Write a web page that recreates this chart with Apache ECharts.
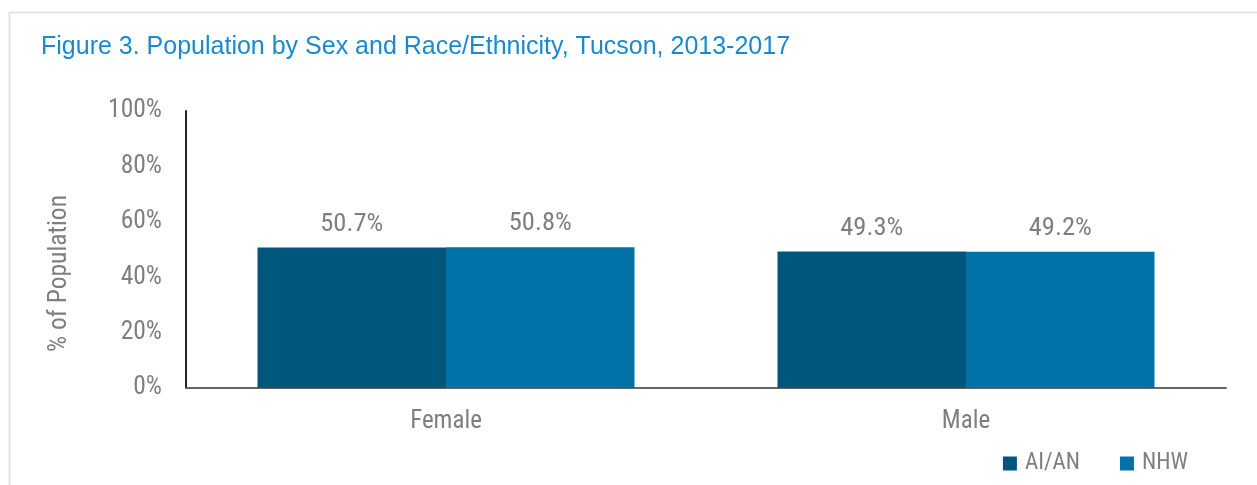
<!DOCTYPE html>
<html><head><meta charset="utf-8">
<script src="https://cdn.jsdelivr.net/npm/echarts@6/dist/echarts.min.js"></script>
<style>html,body{margin:0;padding:0;background:#fff;}#c{width:1257px;height:485px;}</style>
</head><body><div id="c"></div>
<script>
const categories = ['Female', 'Male'];
const seriesNames = ['AI/AN', 'NHW'];
const aian = [50.7, 49.3];
const nhw = [50.8, 49.2];
const yTicks = [0, 20, 40, 60, 80, 100];

const FONT = "'Roboto Condensed', 'Liberation Sans Narrow', 'Arial Narrow', sans-serif";
const TFONT = "'Liberation Sans', Arial, sans-serif";
const chart = echarts.init(document.getElementById('c'), null, {renderer: 'canvas'});
chart.setOption({
  animation: false,
  backgroundColor: '#fff',
  title: {
    text: 'Figure 3. Population by Sex and Race/Ethnicity, Tucson, 2013-2017',
    left: 36, top: 30,
    textStyle: {color: '#1a8ad0', fontSize: 25, fontWeight: 'normal', fontFamily: TFONT}
  },
  graphic: [{
    type: 'rect', left: 7, top: 10, shape: {width: 1300, height: 520},
    style: {fill: 'none', stroke: '#e3e3e3', lineWidth: 2}, silent: true
  }],
  legend: {
    data: seriesNames, right: 64, top: 447, itemWidth: 14, itemHeight: 14, itemGap: 40,
    icon: 'rect',
    textStyle: {color: '#7f7f7f', fontSize: 23, fontFamily: FONT, padding: [0, 0, 0, 3]}
  },
  grid: {left: 186, right: 31, top: 111, bottom: 97, containLabel: false},
  xAxis: {
    type: 'category', data: categories,
    axisLine: {show: true, lineStyle: {color: '#666', width: 2}},
    axisTick: {show: false},
    axisLabel: {color: '#7f7f7f', fontSize: 25, fontFamily: FONT, margin: 21}
  },
  yAxis: {
    type: 'value', min: 0, max: 100, interval: 20,
    name: '% of Population', nameLocation: 'middle', nameGap: 113, nameRotate: 90,
    nameTextStyle: {color: '#7f7f7f', fontSize: 25.5, fontFamily: FONT, padding: [0, 48, 0, 0]},
    axisLine: {show: true, lineStyle: {color: '#222', width: 2}},
    axisTick: {show: false},
    splitLine: {show: false},
    axisLabel: {color: '#7f7f7f', fontSize: 25.5, fontFamily: FONT, margin: 24,
      formatter: v => yTicks.includes(v) ? v + '%' : ''}
  },
  series: [
    {name: seriesNames[0], type: 'bar', data: aian, barGap: '0%', barCategoryGap: '27.5%',
      itemStyle: {color: '#00577d'},
      label: {show: true, position: 'top', distance: 10, color: '#7f7f7f', fontSize: 26.5, fontFamily: FONT, formatter: p => p.value.toFixed(1) + '%'}},
    {name: seriesNames[1], type: 'bar', data: nhw, barGap: '0%', barCategoryGap: '27.5%',
      itemStyle: {color: '#0072a8'},
      label: {show: true, position: 'top', distance: 10, color: '#7f7f7f', fontSize: 26.5, fontFamily: FONT, formatter: p => p.value.toFixed(1) + '%'}}
  ]
});
</script></body></html>
